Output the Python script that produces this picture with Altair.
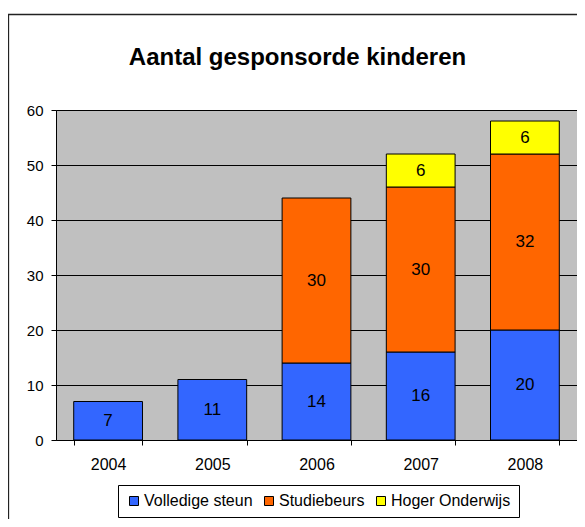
import altair as alt
import pandas as pd

years = ["2004", "2005", "2006", "2007", "2008"]
series = ["Volledige steun", "Studiebeurs", "Hoger Onderwijs"]
volledige_steun = [7, 11, 14, 16, 20]
studiebeurs = [0, 0, 30, 30, 32]
hoger_onderwijs = [0, 0, 0, 6, 6]
colors = ["#3366FF", "#FF6600", "#FFFF00"]
y_ticks = [0, 10, 20, 30, 40, 50, 60]

rows = []
for i, (name, vals) in enumerate(zip(series, [volledige_steun, studiebeurs, hoger_onderwijs])):
    for yr, v in zip(years, vals):
        if v > 0:
            rows.append({"jaar": yr, "reeks": name, "volgorde": i, "aantal": v})
df = pd.DataFrame(rows)

FONT = "Liberation Sans"

base = alt.Chart(df).transform_stack(
    stack="aantal", groupby=["jaar"], as_=["v0", "v1"],
    sort=[alt.SortField("volgorde", order="ascending")]
).transform_calculate(mid="(datum.v0 + datum.v1) / 2")

x = alt.X("jaar:N", sort=years,
          scale=alt.Scale(paddingInner=0.34, paddingOuter=0.17),
          axis=alt.Axis(title=None, labelAngle=0, tickBand="extent", tickSize=5,
                        labelPadding=11, labelFontSize=16, labelFont=FONT,
                        labelColor="black", domainColor="black", tickColor="black",
                        grid=False))
y = alt.Y("v0:Q", scale=alt.Scale(domain=[0, 60], nice=False),
          axis=alt.Axis(title=None, values=y_ticks, tickSize=5, labelPadding=8,
                        labelFontSize=15, labelFont=FONT, labelColor="black",
                        gridColor="black", gridWidth=1, domainColor="black",
                        tickColor="black"))

bars = base.mark_bar(stroke="black", strokeWidth=1).encode(
    x=x, y=y, y2="v1:Q",
    color=alt.Color("reeks:N", scale=alt.Scale(domain=series, range=colors),
                    legend=alt.Legend(title=None, orient="none", legendX=62, legendY=375,
                                      direction="horizontal", symbolType="square",
                                      symbolSize=81, symbolStrokeColor="black",
                                      symbolStrokeWidth=1, symbolOpacity=1,
                                      labelFontSize=16, labelFont=FONT, labelColor="black",
                                      labelOffset=2, columnPadding=8, padding=8,
                                      labelLimit=300,
                                      strokeColor="black", fillColor="white")),
)

labels = base.mark_text(fontSize=17, font=FONT, color="black", baseline="middle").encode(
    x=alt.X("jaar:N", sort=years),
    y=alt.Y("mid:Q"),
    text="aantal:Q",
)

frame = alt.Chart(alt.Data(values=[{"a": 1}])).mark_rect(
    filled=False, stroke="#222222", strokeWidth=1.3
).encode(
    x=alt.value(-47.5), x2=alt.value(700), y=alt.value(-95.5), y2=alt.value(700)
)

chart = alt.layer(frame, bars, labels).properties(
    width=521, height=330,
    title=alt.Title("Aantal gesponsorde kinderen", fontSize=24, fontWeight="bold",
                    font=FONT, color="black", anchor="middle", dx=-19, dy=75,
                    baseline="alphabetic", offset=0),
    autosize=alt.AutoSizeParams(type="none"),
    padding={"left": 48, "top": 102, "right": 0, "bottom": 79},
).configure(
    background="white"
).configure_view(
    fill="#C0C0C0", stroke="#808080", strokeWidth=1
)

chart.save("out.html", embed_options={"renderer": "svg", "actions": False})
